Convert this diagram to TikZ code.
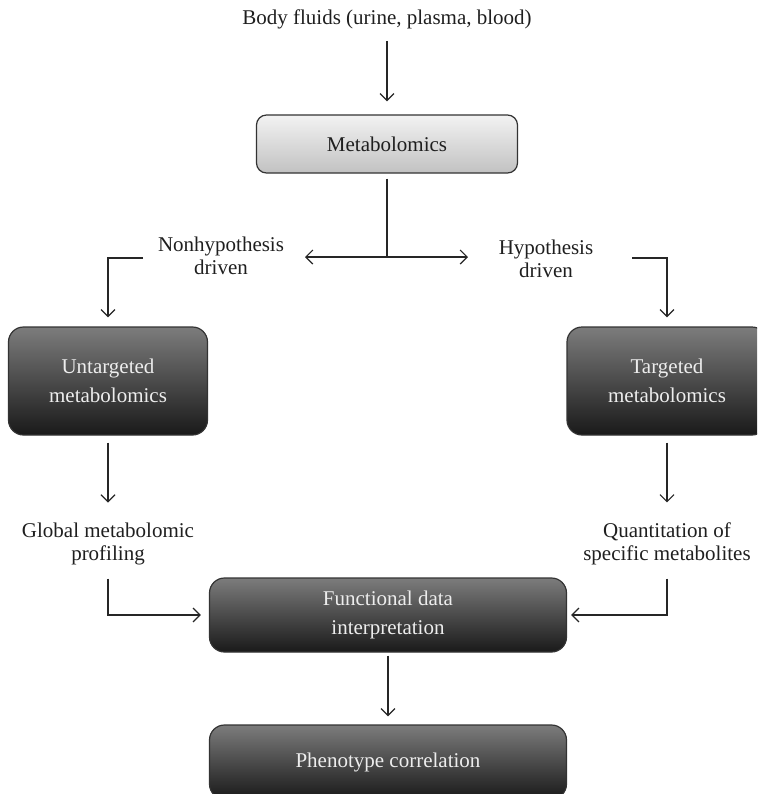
\documentclass[tikz,border=0pt]{standalone}
\usepackage{fontspec}
\setmainfont{Liberation Serif}
\usetikzlibrary{arrows.meta}
\pgfdeclareverticalshading{darkfade}{100bp}{color(0bp)=(black!93); color(25bp)=(black!90); color(100bp)=(black!32)}
\tikzset{
  BoxStyle/.style = { rectangle, draw = black!80, line width = 0.6pt,
                      align = center, inner sep = 0pt,
                      font = \fontsize{10.5}{14.5}\selectfont },
  LightBox/.style = { BoxStyle, rounded corners = 5pt,
                      top color = black!5, bottom color = black!24, text = black!88 },
  DarkBox/.style  = { BoxStyle, rounded corners = 7.5pt,
                      shading = darkfade, shade, text = black!7 },
  TextStyle/.style = { align = center, inner sep = 0pt, text = black!88,
                       font = \fontsize{10.5}{11.5}\selectfont },
  EdgeStyle/.style = { line width = 0.6pt, draw = black!85 },
  ArrowStyle/.style = { EdgeStyle, -{Straight Barb[length=3.5pt,width=7pt]} } }

\begin{document}
\begin{tikzpicture}[x=0.5pt, y=-0.5pt]
  \useasboundingbox (0,0) rectangle (757,794);
  \clip (0,0) rectangle (757,794);

  \node[TextStyle] (fluids) at (387,19.4) {Body fluids (urine, plasma, blood)};
  \node[LightBox, minimum width=130.5pt, minimum height=29pt] (meta) at (387,144) {Metabolomics};

  \node[TextStyle] (nonhyp) at (221,256.2) {Nonhypothesis\\driven};
  \node[TextStyle] (hyp) at (546,259.2) {Hypothesis\\driven};

  \node[DarkBox, minimum width=99.5pt, minimum height=54pt] (untarg) at (108,381) {Untargeted\\metabolomics};
  \node[DarkBox, minimum width=100pt, minimum height=54pt] (targ) at (667,381) {Targeted\\metabolomics};

  \node[TextStyle] (glob) at (108,543.5) {Global metabolomic\\profiling};
  \node[TextStyle] (quant) at (667,543.5) {Quantitation of\\specific metabolites};

  \node[DarkBox, minimum width=178.5pt, minimum height=37pt] (func) at (388,615) {Functional data\\interpretation};
  \node[DarkBox, minimum width=178.5pt, minimum height=37pt] (pheno) at (388,762) {Phenotype correlation};

  \coordinate (split) at (387,257);
  \coordinate (splitL) at (305,257);
  \coordinate (splitR) at (468,257);
  \coordinate (nfoot) at (143,258);
  \coordinate (hfoot) at (632,258);

  \draw[ArrowStyle, shorten <=5.75pt, shorten >=6.5pt] (fluids) -- (meta);
  \draw[EdgeStyle, shorten <=2.5pt] (meta) -- (split);
  \draw[ArrowStyle] (split) -- (splitL);
  \draw[ArrowStyle] (split) -- (splitR);
  \draw[ArrowStyle, shorten >=4.5pt] (nfoot) -| (untarg);
  \draw[ArrowStyle, shorten >=4.5pt] (hfoot) -| (targ);

  \draw[ArrowStyle, shorten <=3.5pt, shorten >=9.75pt] (untarg) -- (glob);
  \draw[ArrowStyle, shorten <=3.5pt, shorten >=9.75pt] (targ) -- (quant);
  \draw[ArrowStyle, shorten <=6.8pt, shorten >=4pt] (glob) |- (func);
  \draw[ArrowStyle, shorten <=6.8pt, shorten >=2pt] (quant) |- (func);
  \draw[ArrowStyle, shorten <=1.5pt, shorten >=4pt] (func) -- (pheno);
\end{tikzpicture}
\end{document}
